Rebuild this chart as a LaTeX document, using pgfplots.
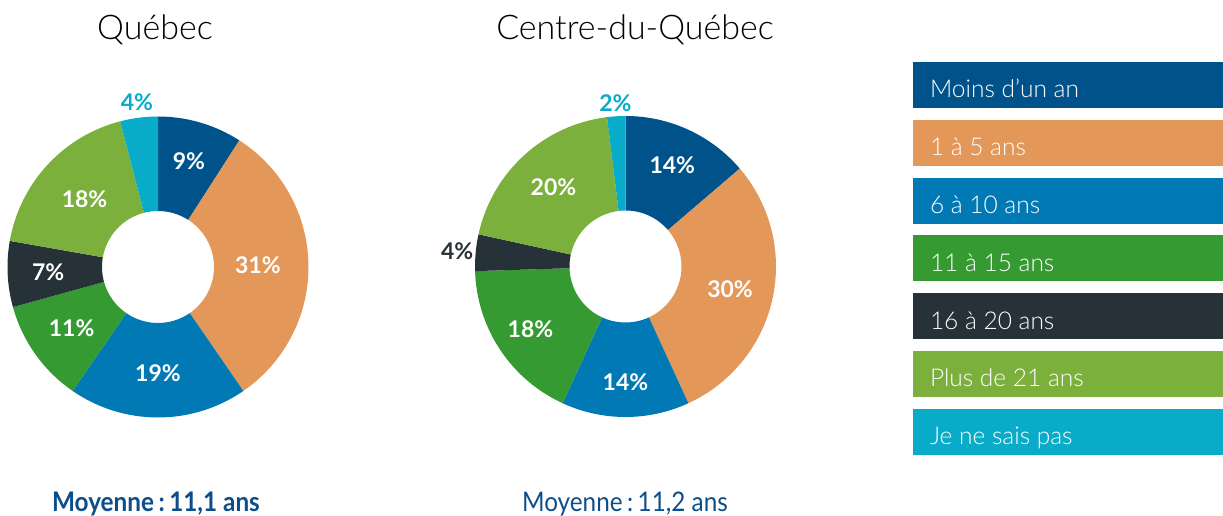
\documentclass[border=0pt]{standalone}
\usepackage{fontspec}
\setmainfont{Lato}
\newfontfamily\lightfont{Lato Light}
\newfontfamily\condfont[FakeStretch=0.9]{Lato}
\usepackage{pgfplots}
\pgfplotsset{compat=1.18}

\definecolor{c1}{HTML}{00538A}
\definecolor{c2}{HTML}{E3985A}
\definecolor{c3}{HTML}{0079B5}
\definecolor{c4}{HTML}{369A33}
\definecolor{c5}{HTML}{263238}
\definecolor{c6}{HTML}{7BB03C}
\definecolor{c7}{HTML}{08ACC8}
\definecolor{moy}{HTML}{0D4E8A}

% #1 cx, #2 cy, #3 total, #4 value/colour/label radius/label colour
\newcommand{\donut}[4]{%
  \pgfplotsextra{%
    \foreach \v/\c/\lr/\lc [remember=\ea as \sa (initially 90),
        evaluate=\v as \ea using \sa-360*\v/#3,
        evaluate=\v as \ma using \sa-180*\v/#3] in {#4} {
      \fill[\c] ([shift={(\sa:150.5pt)}]axis cs:#1,#2)
        arc[start angle=\sa, end angle=\ea, radius=150.5pt]
        -- ([shift={(\ea:56pt)}]axis cs:#1,#2)
        arc[start angle=\ea, end angle=\sa, radius=56pt] -- cycle;
      \node[text=\lc, font=\bfseries\fontsize{23}{23}\selectfont]
        at ([shift={(\ma:\lr pt)}]axis cs:#1,#2) {\v\%};
    }
  }%
}

\begin{document}
\begin{tikzpicture}[every node/.style={inner sep=0pt, outer sep=0pt}]
\begin{axis}[
    name=ax,
    hide axis,
    scale only axis,
    width=1223pt, height=516pt,
    xmin=0, xmax=1223, ymin=0, ymax=516,
    clip=false,
]
% Québec
\donut{158}{249}{99}{9/c1/110/white, 31/c2/100/white, 19/c3/106/white,
  11/c4/106/white, 7/c5/110/white, 18/c6/100/white, 4/c7/166/c7}
% Centre-du-Québec
\donut{625.5}{249.5}{102}{14/c1/112/white, 30/c2/107/white, 14/c3/116/white,
  18/c4/114/white, 4/c5/169/c5, 20/c6/107/white, 2/c7/164/c7}

\node[anchor=base, font=\lightfont\fontsize{34}{34}\selectfont]
  at (axis cs:155,476) {Québec};
\node[anchor=base, font=\lightfont\fontsize{34}{34}\selectfont]
  at (axis cs:635,476) {Centre-du-Québec};

\node[anchor=base, text=moy, font=\condfont\bfseries\fontsize{27}{27}\selectfont]
  at (axis cs:156,4) {Moyenne\,:\,11,1 ans};
\node[anchor=base, text=moy, font=\condfont\fontsize{27}{27}\selectfont]
  at (axis cs:625,4) {Moyenne\,:\,11,2 ans};

% legend
\foreach \i/\c in {0/c1, 1/c2, 2/c3, 3/c4, 4/c5, 5/c6, 6/c7}{
  \edef\tmp{\noexpand\fill[\c] (axis cs:913,{516-62-57.8*\i}) rectangle (axis cs:1223,{516-108-57.8*\i});}
  \tmp
}
\pgfplotsextra{%
  \foreach \i/\t in {0/Moins d’un an, 1/1 à 5 ans, 2/6 à 10 ans,
    3/11 à 15 ans, 4/16 à 20 ans, 5/Plus de 21 ans, 6/Je ne sais pas}{
    \node[anchor=base west, text=white, font=\lightfont\fontsize{24.5}{24.5}\selectfont]
      at (axis cs:930,{516-98-57.8*\i}) {\t};
  }
}
\end{axis}
\pgfresetboundingbox
\path (ax.south west) rectangle (ax.north east);
\end{tikzpicture}
\end{document}
